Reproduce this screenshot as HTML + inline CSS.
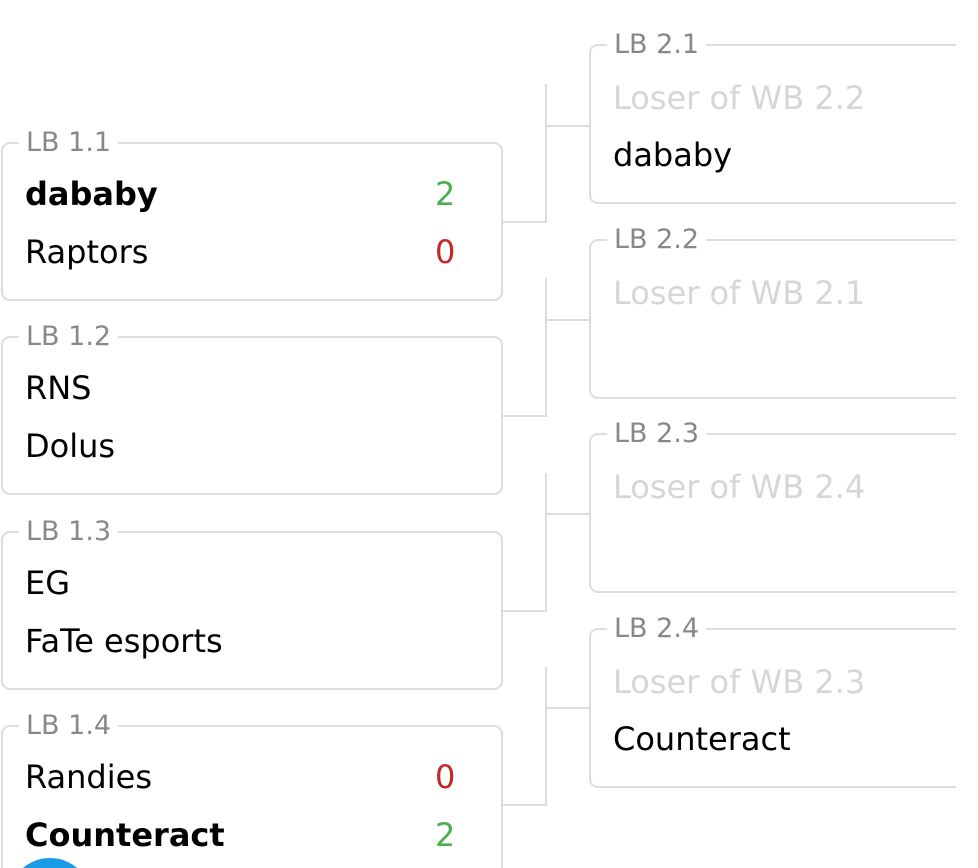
<!DOCTYPE html>
<html><head><meta charset="utf-8"><style>
html,body{margin:0;padding:0;background:#fff;width:978px;height:868px;overflow:hidden;}
#wrap{position:relative;width:978px;height:868px;overflow:hidden;font-family:"DejaVu Sans","Liberation Sans",sans-serif;}
.box{position:absolute;border:2px solid #ddd;border-radius:9px;box-sizing:border-box;}
.box.r{border-right:none;border-top-right-radius:0;border-bottom-right-radius:0;}
.lbl{position:absolute;left:16px;top:-17px;background:#fff;padding:0 7px;font-size:27px;color:#888;line-height:32px;}
.row{position:absolute;left:22px;font-size:32px;line-height:40px;color:#000;white-space:nowrap;}
.b{font-weight:bold;}
.tbd{color:#d6d6d6;}
.sc{position:absolute;left:432px;font-size:32px;line-height:40px;}
.g{color:#4caf50}.red{color:#c62828}
.h{position:absolute;height:2px;background:#ddd;}
.v{position:absolute;width:2px;background:#ddd;}
</style></head><body><div id="wrap">

<div class="box" style="left:1px;top:142px;width:502px;height:159px;">
 <div class="lbl">LB 1.1</div>
 <div class="row b" style="top:30px">dababy</div><div class="sc g" style="top:30px">2</div>
 <div class="row" style="top:88px">Raptors</div><div class="sc red" style="top:88px">0</div>
</div>
<div class="box" style="left:1px;top:336px;width:502px;height:159px;">
 <div class="lbl">LB 1.2</div>
 <div class="row" style="top:30px">RNS</div>
 <div class="row" style="top:88px">Dolus</div>
</div>
<div class="box" style="left:1px;top:531px;width:502px;height:159px;">
 <div class="lbl">LB 1.3</div>
 <div class="row" style="top:30px">EG</div>
 <div class="row" style="top:88px">FaTe esports</div>
</div>
<div class="box" style="left:1px;top:725px;width:502px;height:159px;">
 <div class="lbl">LB 1.4</div>
 <div class="row" style="top:30px">Randies</div><div class="sc red" style="top:30px">0</div>
 <div class="row b" style="top:88px">Counteract</div><div class="sc g" style="top:88px">2</div>
</div>

<div class="box r" style="left:589px;top:44px;width:367px;height:160px;">
 <div class="lbl">LB 2.1</div>
 <div class="row tbd" style="top:32px">Loser of WB 2.2</div>
 <div class="row" style="top:89px">dababy</div>
</div>
<div class="box r" style="left:589px;top:239px;width:367px;height:160px;">
 <div class="lbl">LB 2.2</div>
 <div class="row tbd" style="top:32px">Loser of WB 2.1</div>
</div>
<div class="box r" style="left:589px;top:433px;width:367px;height:160px;">
 <div class="lbl">LB 2.3</div>
 <div class="row tbd" style="top:32px">Loser of WB 2.4</div>
</div>
<div class="box r" style="left:589px;top:628px;width:367px;height:160px;">
 <div class="lbl">LB 2.4</div>
 <div class="row tbd" style="top:32px">Loser of WB 2.3</div>
 <div class="row" style="top:89px">Counteract</div>
</div>

<div class="h" style="left:503px;top:221px;width:44px"></div>
<div class="v" style="left:545px;top:84px;height:139px"></div>
<div class="h" style="left:545px;top:125px;width:45px"></div>

<div class="h" style="left:503px;top:415px;width:44px"></div>
<div class="v" style="left:545px;top:278px;height:139px"></div>
<div class="h" style="left:545px;top:319px;width:45px"></div>

<div class="h" style="left:503px;top:610px;width:44px"></div>
<div class="v" style="left:545px;top:473px;height:139px"></div>
<div class="h" style="left:545px;top:513px;width:45px"></div>

<div class="h" style="left:503px;top:804px;width:44px"></div>
<div class="v" style="left:545px;top:667px;height:139px"></div>
<div class="h" style="left:545px;top:707px;width:45px"></div>

<div style="position:absolute;left:8px;top:858px;width:84px;height:84px;border-radius:50%;background:#1a9be8;"></div>
</div></body></html>
